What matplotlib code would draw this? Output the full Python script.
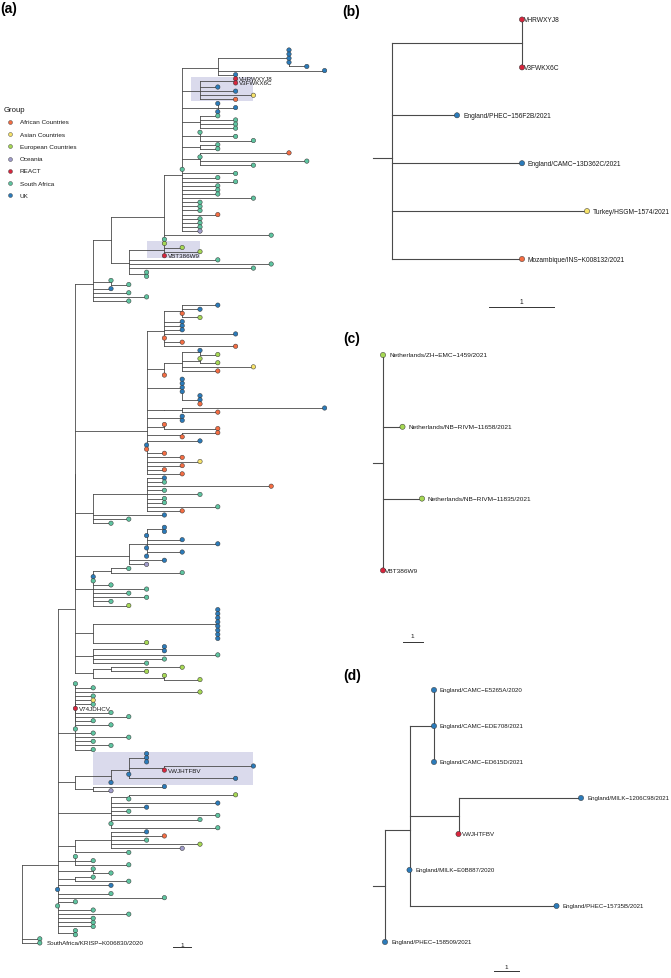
import numpy as np
import matplotlib
matplotlib.use('agg')
import matplotlib.pyplot as plt
from matplotlib.collections import LineCollection
from matplotlib.patches import Rectangle

plt.rcParams['font.family'] = ['Liberation Sans', 'DejaVu Sans']

W, H = 671, 979

# groups
group_codes = ['A', 'Y', 'E', 'O', 'R', 'S', 'U']
group_names = ['African Countries', 'Asian Countries', 'European Countries',
               'Oceania', 'REACT', 'South Africa', 'UK']
group_colors = ['#F46D43', '#F7E36A', '#A6D854', '#A09CCB', '#D7263D', '#5EC4A0', '#2B7BBA']

# ---- panel (a): tree pieces in newick (tip = group code, optional =label; '*' = highlighted clade)
a_top = "((U:0,U:0,U:0,U:0,U:1):4,U:6,U:1):2"
a_hl1 = "((R=VHRWXYJ8:0,R=V3FWKX6C:0):2,U:1,U:2,Y:3,A:2)*:1"
a_n9_rest = ("(U:0,U:1,U:0):2,(S:1,S:2,S:2,S:2):1,(S:0,S:2,S:3):1,(S:1,S:1):1,"
             "(A:5,S:0,S:6,S:3):1,S:0,S:3,S:2,S:3,S:2,S:2,S:2,S:4,S:1,S:1,S:1,A:2,S:1,S:1,S:1,O:1")
a_hl2 = "(E:0,E:1,E:2,R=VBT386W9:0)*:2"
a_n6_rest = "S:5,S:8,S:7,(S:0,S:0):1"
a_n4a_rest = "(S:0,S:1):1,U:1,S:2,S:3,S:2"
a_n8b = "((U:2,U:1,A:0,E:1):1,U:1,U:1,U:1,U:4,A:0,A:1,A:4):1"
a_n8c = "(((U:0,E:1):1,(E:0,E:1):1,Y:4,A:2):1,A:0):1"
a_p9 = "(U:0,U:0,U:0,U:0,(U:0,U:0,A:0):1):2"
a_s9 = "((U:8,A:2):1):1"
a_n7_rest = "(U:0,U:0):2,(A:0,A:3):1,(A:2,A:0):2,U:3,U:0,A:0,A:1,A:2,Y:3,A:2,A:1,A:2"
a_n4b = "((U:1,S:1,A:7,S:1,S:3,S:1,S:1,S:4,A:2):3,U:4,S:2,S:1):1"
a_n6b = "(((U:0,U:0):1,U:0,U:2,U:4,U:0,U:2,U:0):1,U:2,O:1):3"
a_n4c = "((S:1,S:4):1,U:0,S:0,S:1,S:3,S:2,S:3,S:1,E:2):1"
a_n4d = "((U:0,U:0,U:0,U:0,U:0,U:0,U:0,U:0):7,E:3):1"
a_n4e = "((U:0,U:0):4,S:7,S:4,S:3):1"
a_n4f = "((E:4,E:2):1,(E:0,E:2):4):1"
a_n3b = "((S:0,S:1,E:7,S:1,Y:1,S:1,R=V74JDHCV:0,S:2,S:3,S:1):0,S:2,S:0,S:1,S:3,S:1,S:2,S:1):1"
a_hl3 = "((((U:0,U:0,U:0):1,(U:5,R=VWJHTFBV:0):2,U:0,U:6):1,U:0)*:2,(U:4,O:1):1):1"
a_n5c = "((E:6,S:0):1,U:6,U:2,S:1,S:6,S:5,S:0,S:6):3"
a_n3c = "((U:2,A:3,S:2,E:5,O:4):2,S:3):1"
a_m_rest = ("(S:0,S:1,S:3):1,(S:0,S:1):2,(S:1,S:3):1,U:3,U:0,S:3,S:6,S:1,S:0,S:2,S:4,"
            "S:2,S:2,S:2,(S:0,S:0):1")
a_outgroup = "S:1,S=SouthAfrica/KRISP\u2212K006830/2020:1"

# ---- panels (b), (c), (d)
tree_b = ("((R=VHRWXYJ8:0,R=V3FWKX6C:0):2,U=England/PHEC\u2212156F2B/2021:1,"
          "U=England/CAMC\u221213D362C/2021:2,Y=Turkey/HSGM\u22121574/2021:3,"
          "A=Mozambique/INS\u2212K008132/2021:2)")
tree_c = ("(E=Netherlands/ZH\u2212EMC\u22121459/2021:0,E=Netherlands/NB\u2212RIVM\u221211658/2021:1,"
          "E=Netherlands/NB\u2212RIVM\u221211835/2021:2,R=VBT386W9:0)")
tree_d = ("(((U=England/CAMC\u2212E5265A/2020:0,U=England/CAMC\u2212EDE708/2021:0,"
          "U=England/CAMC\u2212ED615D/2021:0):1,(U=England/MILK\u22121206C98/2021:5,R=VWJHTFBV:0):2,"
          "U=England/MILK\u2212E0B887/2020:0,U=England/PHEC\u221215735B/2021:6):1,"
          "U=England/PHEC\u2212158509/2021:0)")


def build_a():
    n9 = "(" + ",".join([a_top, a_hl1, a_n9_rest]) + "):1"
    n8 = "(" + n9 + ",S:6,S:0):3"
    n6 = "(" + a_hl2 + "," + a_n6_rest + "):1"
    n5 = "(" + n8 + "," + n6 + "):1"
    n4a = "(" + n5 + "," + a_n4a_rest + "):1"
    n7 = "(" + ",".join([a_n8b, a_n8c, a_p9, a_s9, a_n7_rest]) + "):4"
    n3a = "((" + ",".join([n4a, n7, a_n4b, a_n6b, a_n4c]) + "):0," + ",".join([a_n4d, a_n4e, a_n4f]) + "):1"
    main = "(" + ",".join([n3a, a_n3b, a_hl3, a_n5c, a_n3c, a_m_rest]) + "):2"
    return "(" + main + "," + a_outgroup + ")"


def parse(s):
    s = s.replace(" ", "")
    pos = [0]

    def node():
        kids = []
        if s[pos[0]] == '(':
            pos[0] += 1
            while True:
                kids.append(node())
                c = s[pos[0]]
                pos[0] += 1
                if c == ')':
                    break
        st = pos[0]
        while pos[0] < len(s) and s[pos[0]] not in ':,)':
            pos[0] += 1
        name = s[st:pos[0]]
        ln = 0.0
        if pos[0] < len(s) and s[pos[0]] == ':':
            pos[0] += 1
            st = pos[0]
            while pos[0] < len(s) and s[pos[0]] not in ',)':
                pos[0] += 1
            ln = float(s[st:pos[0]])
        return {'name': name, 'len': ln, 'kids': kids}
    return node()


def layout(root):
    count = [0]

    def walk(n, x):
        n['x'] = x
        if n['kids']:
            for k in n['kids']:
                walk(k, x + k['len'])
            n['y'] = np.mean([k['y'] for k in n['kids']])
        else:
            n['y'] = count[0]
            count[0] += 1
    walk(root, 0.0)
    return count[0]


def tips_of(n):
    if not n['kids']:
        return [n]
    out = []
    for k in n['kids']:
        out += tips_of(k)
    return out


def make_ax(fig, box, x0, xs, y0, ys):
    l, t, w, h = box
    ax = fig.add_axes([l / W, 1 - (t + h) / H, w / W, h / H])
    ax.set_xlim((l - x0) / xs, (l + w - x0) / xs)
    ax.set_ylim((t + h - y0) / ys, (t - y0) / ys)
    ax.axis('off')
    return ax


def draw_tree(ax, root, xs, lw, dot_s, fs, off_r, off_o, stub=0.0):
    segs = []
    hls = []

    def walk(n, parent):
        if parent is not None:
            segs.append([(parent['x'], n['y']), (n['x'], n['y'])])
        if n['kids']:
            ys = [k['y'] for k in n['kids']]
            segs.append([(n['x'], min(ys)), (n['x'], max(ys))])
            if n['name'] == '*':
                hls.append(n)
            for k in n['kids']:
                walk(k, n)
    walk(root, None)
    if stub:
        segs.append([(-stub, root['y']), (0, root['y'])])

    for n in hls:
        tp = tips_of(n)
        x0 = n['x'] - n['len'] / 2
        x1 = max(t['x'] for t in tp)
        y0 = min(t['y'] for t in tp) - 0.5
        y1 = max(t['y'] for t in tp) + 0.5
        ax.add_patch(Rectangle((x0, y0), x1 - x0, y1 - y0, facecolor='#DADAEC',
                               edgecolor='none', zorder=0))

    ax.add_collection(LineCollection(segs, colors='#4a4a4a', linewidths=lw,
                                     capstyle='projecting', zorder=1))
    tips = tips_of(root)
    cols = [group_colors[group_codes.index(t['name'].split('=')[0])] for t in tips]
    ax.scatter([t['x'] for t in tips], [t['y'] for t in tips], s=dot_s, c=cols,
               edgecolors='#333333', linewidths=0.35, zorder=3)
    for t in tips:
        if '=' in t['name']:
            g, lab = t['name'].split('=', 1)
            off = off_r if g == 'R' else off_o
            ax.text(t['x'] + off / xs, t['y'], lab, fontsize=fs, ha='left',
                    va='center', color='#1a1a1a', zorder=4)


def scale_bar(ax, x, y, fs):
    ax.plot([x, x + 1], [y, y], color='#333333', lw=0.7)
    ax.text(x + 0.5, y - 0.05, '1', fontsize=fs, ha='center', va='bottom', color='#1a1a1a')


fig = plt.figure(figsize=(W / 100, H / 100), dpi=100)

# (a)
tree_a = parse(build_a())
layout(tree_a)
ax_a = make_ax(fig, (0, 0, 340, 979), 22, 17.8, 51, 4.115)
draw_tree(ax_a, tree_a, 17.8, 0.6, 10, 4.5, 3.5, 6.7)
scale_bar(ax_a, (173 - 22) / 17.8, (948 - 51) / 4.115, 4.5)

# (b)
tb = parse(tree_b)
layout(tb)
ax_b = make_ax(fig, (340, 0, 331, 330), 392, 65, 20.5, 47.9)
draw_tree(ax_b, tb, 65, 0.8, 14, 4.8, 2, 6, stub=0.29)
scale_bar(ax_b, (489 - 392) / 65, (308 - 20.5) / 47.9, 4.8)

# (c)
tc = parse(tree_c)
layout(tc)
ax_c = make_ax(fig, (340, 330, 331, 330), 383, 19.5, 356, 71.8)
draw_tree(ax_c, tc, 19.5, 0.8, 14, 4.65, 2, 6, stub=0.51)
scale_bar(ax_c, (403 - 383) / 19.5, (643 - 356) / 71.8, 4.65)

# (d)
td = parse(tree_d)
layout(td)
ax_d = make_ax(fig, (340, 660, 331, 319), 385, 24.5, 691, 36)
draw_tree(ax_d, td, 24.5, 0.8, 14, 4.45, 3, 6, stub=0.49)
scale_bar(ax_d, (494 - 385) / 24.5, (972 - 691) / 36, 4.5)

# overlay: legend + panel letters
ov = fig.add_axes([0, 0, 1, 1])
ov.set_xlim(0, W)
ov.set_ylim(H, 0)
ov.axis('off')
ov.text(4, 110, 'Group', fontsize=5.6, ha='left', va='center', color='#1a1a1a')
for i, (nm, col) in enumerate(zip(group_names, group_colors)):
    yy = 123 + 12.2 * i
    ov.scatter([10], [yy], s=8, c=[col], edgecolors='#333333', linewidths=0.3)
    ov.text(20, yy, nm, fontsize=4.6, ha='left', va='center', color='#1a1a1a')

for lab, x, y in [('(a)', 0, 8.5), ('(b)', 342, 12), ('(c)', 343, 339), ('(d)', 343, 676)]:
    ov.text(x, y, lab, fontsize=10, fontweight='bold', ha='left', va='center')

fig.savefig('out.png', dpi=100)
